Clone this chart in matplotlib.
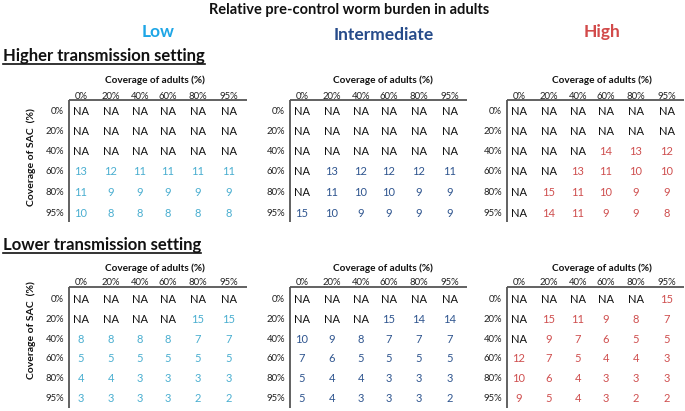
import matplotlib
matplotlib.use("Agg")
import matplotlib.pyplot as plt

plt.rcParams['font.family'] = ['Lato', 'DejaVu Sans']

# ---------------- data ----------------
title = "Relative pre-control worm burden in adults"
groups = ["Low", "Intermediate", "High"]
settings = ["Higher transmission setting", "Lower transmission setting"]
adult_cov = ["0%", "20%", "40%", "60%", "80%", "95%"]
sac_cov = ["0%", "20%", "40%", "60%", "80%", "95%"]
col_title = "Coverage of adults (%)"
row_title = "Coverage of SAC  (%)"

NA = None
high_low = [
    [NA, NA, NA, NA, NA, NA],
    [NA, NA, NA, NA, NA, NA],
    [NA, NA, NA, NA, NA, NA],
    [13, 12, 11, 11, 11, 11],
    [11, 9, 9, 9, 9, 9],
    [10, 8, 8, 8, 8, 8],
]
high_int = [
    [NA, NA, NA, NA, NA, NA],
    [NA, NA, NA, NA, NA, NA],
    [NA, NA, NA, NA, NA, NA],
    [NA, 13, 12, 12, 12, 11],
    [NA, 11, 10, 10, 9, 9],
    [15, 10, 9, 9, 9, 9],
]
high_high = [
    [NA, NA, NA, NA, NA, NA],
    [NA, NA, NA, NA, NA, NA],
    [NA, NA, NA, 14, 13, 12],
    [NA, NA, 13, 11, 10, 10],
    [NA, 15, 11, 10, 9, 9],
    [NA, 14, 11, 9, 9, 8],
]
low_low = [
    [NA, NA, NA, NA, NA, NA],
    [NA, NA, NA, NA, 15, 15],
    [8, 8, 8, 8, 7, 7],
    [5, 5, 5, 5, 5, 5],
    [4, 4, 3, 3, 3, 3],
    [3, 3, 3, 3, 2, 2],
]
low_int = [
    [NA, NA, NA, NA, NA, NA],
    [NA, NA, NA, 15, 14, 14],
    [10, 9, 8, 7, 7, 7],
    [7, 6, 5, 5, 5, 5],
    [5, 4, 4, 3, 3, 3],
    [5, 4, 3, 3, 3, 2],
]
low_high = [
    [NA, NA, NA, NA, NA, 15],
    [NA, 15, 11, 9, 8, 7],
    [NA, 9, 7, 6, 5, 5],
    [12, 7, 5, 4, 4, 3],
    [10, 6, 4, 3, 3, 3],
    [9, 5, 4, 3, 2, 2],
]
tables = [[high_low, high_int, high_high], [low_low, low_int, low_high]]

# ---------------- styling ----------------
group_title_colors = ["#1ea6e6", "#264b8a", "#d24a4a"]
value_colors = ["#4aaed0", "#2f558f", "#cf4f4f"]

W, H = 685, 411
fig = plt.figure(figsize=(W / 100, H / 100), dpi=100)
ax = fig.add_axes([0, 0, 1, 1])
ax.set_xlim(0, W)
ax.set_ylim(H, 0)
ax.axis("off")

vline_x = [69, 290, 507]
hline_end = [247, 467, 684]
col_off = [12, 42, 71, 99, 129, 160]
ctitle_x = [155, 383, 602]
group_x = [158, 384, 602]
group_y = [32, 35, 32]

sec = [
    dict(head=56.5, uline=64, ctitle=80, hdr=96.5, hline=100.5,
         rows=[111, 131, 151, 171, 192, 213], vbot=222, ylab=157),
    dict(head=245, uline=253, ctitle=268, hdr=282.5, hline=287,
         rows=[299, 319, 339, 358.5, 378, 398], vbot=408, ylab=330),
]

ax.text(349, 10, title, ha="center", va="center", fontsize=10.5,
        fontweight="bold", color="#111111")
for g, name in enumerate(groups):
    ax.text(group_x[g], group_y[g], name, ha="center", va="center",
            fontsize=12.5, fontweight="bold", color=group_title_colors[g])

for s, setting in enumerate(settings):
    L = sec[s]
    t = ax.text(3, L["head"], setting, ha="left", va="center",
                fontsize=12, fontweight="bold", color="#111111")
    fig.canvas.draw()
    bb = t.get_window_extent().transformed(ax.transData.inverted())
    ax.plot([3, bb.x1], [L["uline"], L["uline"]], color="#111111", lw=1.2)

    ax.text(31, L["ylab"], row_title, rotation=90, ha="center", va="center",
            fontsize=7.5, fontweight="bold", color="#111111")

    for g in range(3):
        vx = vline_x[g]
        data = tables[s][g]
        ax.text(ctitle_x[g], L["ctitle"], col_title, ha="center", va="center",
                fontsize=7.2, fontweight="bold", color="#111111")
        for j, lab in enumerate(adult_cov):
            ax.text(vx + col_off[j], L["hdr"], lab, ha="center", va="center",
                    fontsize=6.8, color="#222222")
        ax.plot([vx, hline_end[g]], [L["hline"], L["hline"]], color="#555555", lw=1.3,
                solid_capstyle="butt")
        ax.plot([vx, vx], [L["hline"], L["vbot"]], color="#555555", lw=1.3,
                solid_capstyle="butt")
        for i, rlab in enumerate(sac_cov):
            y = L["rows"][i]
            ax.text(vx - 5, y, rlab, ha="right", va="center", fontsize=6.8,
                    color="#222222")
            for j in range(6):
                v = data[i][j]
                if v is None:
                    ax.text(vx + col_off[j], y, "NA", ha="center", va="center",
                            fontsize=8, color="#111111")
                else:
                    ax.text(vx + col_off[j], y, str(v), ha="center", va="center",
                            fontsize=8, color=value_colors[g])

fig.savefig("out.png", dpi=100)
